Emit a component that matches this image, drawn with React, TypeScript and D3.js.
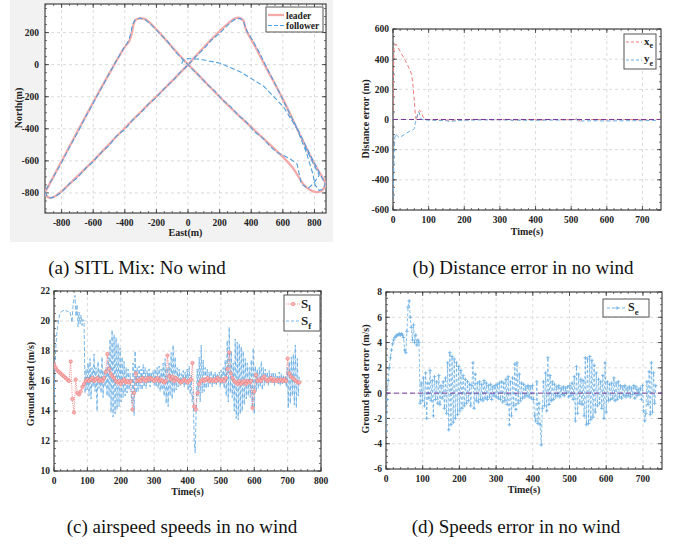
import React from 'react';
import * as d3 from 'd3';

const W = 675;
const H = 545;
const FONT = '"Liberation Serif", "Times New Roman", serif';

// ---- (a) SITL trajectories (East, North in m)
const leaderEast = [-300, -270, -230, -150, -60, 0, 100, 250, 400, 520, 600, 660, 700, 730, 770, 810, 840, 860, 870, 800, 700, 600, 495, 410, 375, 360, 350, 325, 295, 260, 150, 50, 0, -150, -300, -450, -600, -720, -800, -850, -880, -905, -890, -750, -600, -478, -400, -370, -355, -345, -330, -300];
const leaderNorth = [290, 282, 250, 165, 65, 2, -100, -250, -390, -500, -575, -640, -700, -745, -780, -795, -790, -770, -745, -620, -420, -215, -20, 140, 200, 240, 275, 292, 287, 262, 160, 55, 0, -150, -295, -445, -600, -715, -790, -825, -830, -800, -770, -510, -235, -20, 110, 150, 200, 250, 280, 290];

const followerEast = [-40, -30, 0, 76, 203, 329, 477, 603, 688, 747, 789, 804, 830, 855, 868,
  840, 800, 752, 700, 650, 600, 548, 500, 450, 410, 378, 362, 352, 330, 300, 268,
  200, 150, 100, 50, 0, -50, -100, -150, -200, -250, -300, -350, -400, -450, -500, -550, -600, -650, -700, -750, -800, -840, -870, -895, -905,
  -860, -800, -750, -700, -650, -600, -550, -500, -450, -405, -378, -362, -352, -338, -305,
  -270, -230, -180, -130, -80, -30, 20, 70, 120, 170, 220, 270, 320, 370, 420, 470, 520, 560, 600, 650, 690, 705, 718, 760, 795, 830, 790, 740];
const followerNorth = [5, 28, 38, 34, 9, -44, -133, -262, -397, -543, -678, -750, -785, -775, -745,
  -690, -615, -520, -415, -318, -218, -115, -22, 78, 150, 200, 235, 268, 288, 285, 262,
  195, 155, 98, 52, -3, -48, -105, -148, -205, -245, -302, -345, -405, -442, -505, -548, -605, -648, -705, -742, -795, -822, -832, -815, -790,
  -715, -610, -515, -425, -330, -240, -150, -58, 30, 105, 145, 195, 245, 275, 290,
  280, 245, 195, 145, 80, 30, -22, -68, -122, -165, -222, -262, -318, -358, -418, -455, -510, -545, -565, -590, -620, -690, -745, -772, -740, -690, -612, -510];

// ---- (b) distance error
const xeTime = [0, 1, 3, 8, 15, 25, 35, 45, 52, 56, 60, 63, 66, 70, 74, 78, 82, 88, 95, 120, 160, 200, 228, 233, 238, 280, 330, 338, 346, 400, 410, 416, 430, 480, 510, 516, 521, 527, 545, 600, 650, 700, 745];
const xeValue = [60, 300, 480, 500, 475, 430, 390, 340, 300, 230, 120, 20, -5, 45, 60, 55, 30, 5, 0, -3, -5, -3, 0, 8, 0, -2, 0, -12, -2, 0, -10, -4, 0, -2, 0, 6, -8, -3, 0, -2, 0, -3, 0];
const yeTime = [0, 1, 3, 5, 8, 12, 18, 25, 35, 45, 55, 60, 63, 66, 70, 73, 76, 80, 90, 110, 150, 160, 170, 200, 250, 300, 340, 400, 500, 515, 520, 530, 560, 600, 650, 700, 745];
const yeValue = [-520, -450, -250, -120, -95, -110, -120, -110, -95, -80, -70, -60, -20, 10, 40, 50, 20, 0, -3, -5, -8, -15, -10, -5, -3, -2, -5, -5, -3, 0, -15, -10, -8, -10, -8, -8, -5];

// ---- (c) ground speeds, sampled every 3 s (follower) and 5 s (leader)
const sfTime = d3.range(0, 736, 3);
const sfValue = [
  14.2, 17.0, 18.5, 19.3, 19.8, 20.2, 20.5, 20.6, 20.65, 20.7,
  20.7, 20.7, 20.65, 20.7, 20.6, 20.65, 20.6, 20.3, 19.9, 21.0,
  21.5, 21.7, 20.3, 21.1, 19.6, 20.6, 19.8, 20.4, 19.7, 20.1,
  20.0, 15.2, 16.8, 15.4, 17.2, 15.0, 17.5, 14.8, 16.9, 15.6,
  17.8, 15.3, 16.9, 14.0, 17.3, 15.5, 16.8, 15.2, 17.6, 14.9,
  16.7, 15.6, 16.9, 15.0, 17.6, 14.9, 18.8, 13.9, 19.4, 13.6,
  19.1, 13.8, 18.9, 14.1, 18.5, 14.3, 18.2, 14.6, 17.6, 14.9,
  17.3, 15.0, 16.9, 15.2, 16.8, 15.4, 16.5, 15.1, 14.5, 17.2,
  13.7, 18.0, 15.2, 16.9, 15.3, 17.0, 15.5, 16.8, 15.4, 17.1,
  15.6, 16.9, 15.5, 16.7, 15.8, 16.8, 15.6, 16.6, 15.9, 16.7,
  15.7, 16.8, 15.6, 16.9, 15.5, 17.0, 15.3, 16.8, 15.4, 17.2,
  15.0, 17.5, 14.5, 16.9, 14.3, 17.2, 15.0, 17.9, 14.8, 18.4,
  15.2, 17.6, 15.4, 16.9, 15.6, 16.8, 15.7, 16.5, 15.8, 16.7,
  15.6, 16.6, 15.7, 16.8, 15.4, 17.0, 15.1, 16.4, 14.6, 15.3,
  12.0, 11.2, 14.0, 16.8, 15.0, 17.6, 14.6, 18.4, 15.2, 17.4,
  15.3, 16.9, 15.5, 16.8, 15.6, 16.6, 15.8, 16.7, 15.6, 16.5,
  15.8, 16.6, 15.7, 16.5, 15.9, 16.6, 15.6, 16.7, 15.8, 16.9,
  15.5, 17.4, 15.0, 18.7, 14.6, 19.6, 15.2, 18.0, 14.9, 17.2,
  14.0, 18.8, 13.5, 18.6, 13.4, 18.5, 13.8, 18.3, 14.0, 18.0,
  14.4, 17.5, 14.8, 17.2, 15.0, 16.9, 14.9, 17.4, 14.2, 18.2,
  13.8, 17.0, 15.3, 16.8, 15.5, 16.9, 15.6, 17.3, 15.4, 16.9,
  15.7, 16.8, 15.8, 16.6, 15.7, 16.7, 15.9, 16.5, 15.8, 16.6,
  15.7, 16.5, 15.9, 16.4, 15.8, 16.6, 15.7, 16.5, 15.8, 16.4,
  15.9, 16.3, 15.6, 16.9, 14.2, 17.3, 14.5, 17.6, 15.0, 17.8,
  14.4, 18.4, 14.2, 17.5, 15.0, 16.4,
];
const slTime = d3.range(0, 736, 5);
const slValue = [
  17.1, 16.9, 16.7, 16.6, 16.5, 16.4, 16.3, 16.2, 16.1, 16.0,
  17.3, 14.8, 13.9, 16.1, 15.2, 15.1, 15.3, 15.6, 15.8, 16.0,
  16.1, 16.0, 16.1, 16.2, 16.0, 16.1, 16.2, 16.0, 16.1, 16.0,
  16.2, 16.6, 17.8, 16.8, 16.5, 16.3, 16.2, 16.0, 15.9, 16.0,
  15.8, 16.0, 16.1, 15.9, 16.0, 15.9, 16.0, 14.1, 15.2, 16.5,
  16.0, 16.1, 16.0, 16.2, 16.1, 16.0, 16.2, 16.1, 16.2, 16.1,
  16.0, 16.1, 16.2, 16.0, 16.1, 16.0, 15.9, 16.0, 17.7, 16.3,
  16.1, 16.3, 16.0, 16.2, 16.1, 16.0, 15.9, 16.0, 16.1, 16.0,
  15.9, 16.0, 16.1, 17.2, 14.3, 14.1, 15.2, 15.8, 16.0, 16.1,
  16.0, 16.1, 16.2, 16.0, 16.1, 16.0, 16.1, 16.0, 16.2, 16.1,
  16.0, 16.1, 16.0, 16.2, 16.8, 17.9, 16.5, 16.2, 16.0, 15.9,
  15.8, 16.0, 15.8, 15.9, 16.0, 15.8, 16.0, 15.9, 16.0, 14.2,
  15.3, 16.4, 16.0, 16.1, 16.0, 16.2, 16.3, 16.1, 16.0, 16.1,
  16.2, 16.0, 16.1, 16.0, 16.1, 16.0, 16.1, 16.0, 16.1, 16.0,
  17.5, 16.5, 16.3, 16.2, 16.1, 16.0, 15.9, 15.9,
];

// ---- (d) ground speed error, every 3 s
const seTime = d3.range(0, 736, 3);
const seValue = [
  -3.0, -0.5, 1.0, 2.0, 2.8, 3.4, 3.9, 4.2, 4.4, 4.5,
  4.6, 4.6, 4.7, 4.6, 4.7, 4.6, 4.4, 3.4, 3.2, 4.9,
  6.8, 7.3, 6.0, 5.2, 4.2, 5.4, 4.0, 4.6, 3.8, 4.2,
  4.0, -0.8, 0.8, -0.6, 1.2, -1.0, 1.6, -2.0, 0.8, -0.4,
  1.8, -0.6, 1.0, -1.8, 1.3, -0.5, 0.9, -0.8, 1.4, -0.9,
  0.6, -0.4, 0.9, -1.2, 1.2, -1.6, 2.4, -2.9, 3.2, -2.5,
  2.9, -2.3, 2.7, -2.0, 2.4, -1.7, 2.1, -1.4, 1.8, -1.2,
  1.4, -1.0, 1.1, -0.8, 0.9, -0.6, 0.7, -1.0, 0.6, 2.4,
  -1.2, 1.5, -0.6, 0.8, -0.7, 0.9, -0.5, 0.7, -0.6, 1.0,
  -0.4, 0.8, -0.5, 0.6, -0.3, 0.7, -0.5, 0.5, -0.2, 0.6,
  -0.3, 0.7, -0.4, 0.8, -0.5, 0.9, -0.7, 0.8, -0.6, 1.1,
  -0.9, 1.3, -2.5, 0.9, -1.8, 1.2, -1.0, 2.3, -1.3, 2.4,
  -0.8, 1.5, -0.6, 0.8, -0.4, 0.7, -0.3, 0.5, -0.2, 0.6,
  -0.3, 0.5, -0.4, 0.6, -0.5, -1.8, -2.2, 0.9, -2.4, -0.8,
  -2.5, -4.1, -1.2, 0.9, -1.0, 1.6, -1.4, 2.8, -0.9, 1.4,
  -0.6, 0.9, -0.5, 0.7, -0.3, 0.5, -0.2, 0.6, -0.3, 0.4,
  -0.1, 0.5, -0.2, 0.4, 0.0, 0.5, -0.3, 0.6, -0.2, 0.8,
  -0.5, 1.3, -2.2, 2.1, -1.6, 1.5, -0.8, 1.1, -0.9, 1.0,
  -1.8, 2.8, -2.5, 2.7, -2.4, 2.9, -2.1, 2.6, -1.9, 2.2,
  -1.5, 1.6, -1.0, 1.1, -0.8, 0.9, -1.2, 1.4, -2.0, 2.4,
  -1.5, 0.9, -0.6, 0.7, -0.5, 0.8, -0.4, 1.2, -0.6, 0.8,
  -0.5, 0.9, -0.3, 0.6, -0.4, 0.5, -0.2, 0.6, -0.3, 0.4,
  -0.2, 0.5, -0.3, 0.4, -0.1, 0.6, -0.4, 0.5, -0.2, 0.3,
  -0.1, 0.4, -0.5, 0.6, -1.4, -2.2, -1.6, 0.9, -0.9, 1.7,
  -1.7, 2.4, -1.5, 1.6, -0.8, 0.6,
];

// tick labels
const aEastTicks = [-800, -600, -400, -200, 0, 200, 400, 600, 800];
const aNorthTicks = [-800, -600, -400, -200, 0, 200];
const timeTicks700 = [0, 100, 200, 300, 400, 500, 600, 700];
const timeTicks800 = [0, 100, 200, 300, 400, 500, 600, 700, 800];
const distTicks = [-600, -400, -200, 0, 200, 400, 600];
const speedTicks = [10, 12, 14, 16, 18, 20, 22];
const errTicks = [-6, -4, -2, 0, 2, 4, 6, 8];

const RED = '#f07a7a';
const BLUE = '#6aaee3';
const PURPLE = '#7a3a9a';

type Lin = d3.ScaleLinear<number, number>;

function Axes(props: {
  x: Lin; y: Lin; xTicks: number[]; yTicks: number[]; xMinor: number[]; yMinor: number[];
  gap: number; xTitle: string; yTitle: string; xTitleY: number; yTitleX: number; yTitleY: number;
}) {
  const { x, y, xTicks, yTicks, xMinor, yMinor, gap } = props;
  const [x0, x1] = x.range();
  const [y1, y0] = y.range();
  const tf = { fontFamily: FONT, fontWeight: 700, fontSize: 9.5, fill: '#222' } as const;
  return (
    <g>
      {xTicks.map((t) => (
        <line key={'gx' + t} x1={x(t)} x2={x(t)} y1={y0} y2={y1} stroke="#d2d2d2" strokeDasharray="3,3" strokeWidth={0.8} />
      ))}
      {yTicks.map((t) => (
        <line key={'gy' + t} x1={x0} x2={x1} y1={y(t)} y2={y(t)} stroke="#d2d2d2" strokeDasharray="3,3" strokeWidth={0.8} />
      ))}
      {xMinor.map((t) => (
        <g key={'mx' + t}>
          <line x1={x(t)} x2={x(t)} y1={y1} y2={y1 - 2} stroke="#333" strokeWidth={0.7} />
          <line x1={x(t)} x2={x(t)} y1={y0} y2={y0 + 2} stroke="#333" strokeWidth={0.7} />
        </g>
      ))}
      {yMinor.map((t) => (
        <g key={'my' + t}>
          <line x1={x0} x2={x0 + 2} y1={y(t)} y2={y(t)} stroke="#333" strokeWidth={0.7} />
          <line x1={x1} x2={x1 - 2} y1={y(t)} y2={y(t)} stroke="#333" strokeWidth={0.7} />
        </g>
      ))}
      {xTicks.map((t) => (
        <g key={'tx' + t}>
          <line x1={x(t)} x2={x(t)} y1={y1} y2={y1 - 4} stroke="#333" strokeWidth={0.8} />
          <line x1={x(t)} x2={x(t)} y1={y0} y2={y0 + 4} stroke="#333" strokeWidth={0.8} />
          <text x={x(t)} y={y1 + 13} textAnchor="middle" {...tf}>{t}</text>
        </g>
      ))}
      {yTicks.map((t) => (
        <g key={'ty' + t}>
          <line x1={x0} x2={x0 + 4} y1={y(t)} y2={y(t)} stroke="#333" strokeWidth={0.8} />
          <line x1={x1} x2={x1 - 4} y1={y(t)} y2={y(t)} stroke="#333" strokeWidth={0.8} />
          <text x={x0 - gap} y={y(t) + 3.4} textAnchor="end" {...tf}>{t}</text>
        </g>
      ))}
      <rect x={x0} y={y0} width={x1 - x0} height={y1 - y0} fill="none" stroke="#444" strokeWidth={1.2} />
      <text x={(x0 + x1) / 2} y={props.xTitleY} textAnchor="middle" {...tf} fontSize={10}>{props.xTitle}</text>
      <text transform={`translate(${props.yTitleX},${props.yTitleY}) rotate(-90)`} textAnchor="middle" {...tf} fontSize={10}>{props.yTitle}</text>
    </g>
  );
}

const App = () => {
  // (a)
  const xA = d3.scaleLinear().domain([-905, 873]).range([45, 326]);
  const yA = d3.scaleLinear().domain([-925, 378]).range([213, 4]);
  const lineA = d3.line<number>().x((d) => xA(leaderEast[d])).y((d) => yA(leaderNorth[d])).curve(d3.curveCatmullRom.alpha(0.5));
  const lineF = d3.line<number>().x((d) => xA(followerEast[d])).y((d) => yA(followerNorth[d]));

  // (b)
  const xB = d3.scaleLinear().domain([0, 752]).range([393, 661]);
  const yB = d3.scaleLinear().domain([-600, 600]).range([210, 29]);
  const lineXe = d3.line<number>().x((d) => xB(xeTime[d])).y((d) => yB(xeValue[d]));
  const lineYe = d3.line<number>().x((d) => xB(yeTime[d])).y((d) => yB(yeValue[d]));

  // (c)
  const xC = d3.scaleLinear().domain([0, 800]).range([54, 321]);
  const yC = d3.scaleLinear().domain([10, 22]).range([471, 291]);
  const lineSf = d3.line<number>().x((d) => xC(sfTime[d])).y((d) => yC(sfValue[d]));
  const lineSl = d3.line<number>().x((d) => xC(slTime[d])).y((d) => yC(slValue[d]));

  // (d)
  const xD = d3.scaleLinear().domain([0, 752]).range([386, 662]);
  const yD = d3.scaleLinear().domain([-6, 8]).range([469, 292]);
  const lineSe = d3.line<number>().x((d) => xD(seTime[d])).y((d) => yD(seValue[d]));
  const plus = seValue.map((v, i) => {
    const px = xD(seTime[i]);
    const py = yD(v);
    return `M${px - 1.8},${py}h3.6M${px},${py - 1.8}v3.6`;
  }).join('');

  const idx = (arr: number[]) => arr.map((_, i) => i);
  const cap = { fontFamily: FONT, fontSize: 19, fill: '#111' } as const;
  const lf = { fontFamily: FONT, fontWeight: 700, fill: '#222' } as const;

  return (
    <div style={{ position: 'absolute', left: 0, top: 0 }}>
      <svg width={W} height={H} style={{ display: 'block', background: '#fff' }}>
        <defs>
          <clipPath id="cA"><rect x={45} y={4} width={281} height={209} /></clipPath>
          <clipPath id="cB"><rect x={393} y={29} width={268} height={181} /></clipPath>
          <clipPath id="cC"><rect x={54} y={291} width={267} height={180} /></clipPath>
          <clipPath id="cD"><rect x={386} y={292} width={276} height={177} /></clipPath>
        </defs>

        {/* (a) */}
        <rect x={10} y={0} width={323} height={242} fill="#f2f2f2" />
        <rect x={45} y={4} width={281} height={209} fill="#fff" />
        <Axes x={xA} y={yA} xTicks={aEastTicks} yTicks={aNorthTicks}
          xMinor={d3.range(-900, 871, 50)} yMinor={d3.range(-900, 351, 50)} gap={6}
          xTitle="East(m)" yTitle="North(m)" xTitleY={236} yTitleX={22} yTitleY={108} />
        <g clipPath="url(#cA)">
          <path d={lineA(idx(leaderEast)) || ''} fill="none" stroke="#f5aaaa" strokeWidth={2.3} strokeLinejoin="round" />
          <path d={lineF(idx(followerEast)) || ''} fill="none" stroke="#4f9fdf" strokeWidth={1.1} strokeDasharray="5,2.5" />
        </g>
        <rect x={266} y={7} width={57} height={25} fill="#fff" stroke="#555" strokeWidth={1} />
        <line x1={268} x2={284} y1={15} y2={15} stroke="#f5aaaa" strokeWidth={2.3} />
        <text x={286} y={18.5} fontSize={9.5} {...lf}>leader</text>
        <line x1={268} x2={284} y1={25.5} y2={25.5} stroke="#4f9fdf" strokeWidth={1.1} strokeDasharray="4,2" />
        <text x={286} y={29} fontSize={9.5} {...lf}>follower</text>

        {/* (b) */}
        <Axes x={xB} y={yB} xTicks={timeTicks700} yTicks={distTicks}
          xMinor={d3.range(0, 751, 20)} yMinor={d3.range(-600, 601, 50)} gap={4}
          xTitle="Time(s)" yTitle="Distance error (m)" xTitleY={235} yTitleX={369} yTitleY={119} />
        <g clipPath="url(#cB)">
          <path d={lineXe(idx(xeTime)) || ''} fill="none" stroke={RED} strokeWidth={1} strokeDasharray="4,2.5" />
          <path d={lineYe(idx(yeTime)) || ''} fill="none" stroke={BLUE} strokeWidth={1} strokeDasharray="4,2.5" />
          <line x1={393} x2={661} y1={yB(0)} y2={yB(0)} stroke={PURPLE} strokeWidth={1} strokeDasharray="5,3" />
        </g>
        <rect x={624} y={34} width={32} height={35} fill="#fff" stroke="#555" strokeWidth={1} />
        <line x1={626} x2={642} y1={42} y2={42} stroke={RED} strokeWidth={1} strokeDasharray="3,2" />
        <text x={644} y={44.5} fontSize={11} {...lf}>x<tspan dy={3.5} fontSize={8}>e</tspan></text>
        <line x1={626} x2={642} y1={60} y2={60} stroke={BLUE} strokeWidth={1} strokeDasharray="3,2" />
        <text x={644} y={62} fontSize={11} {...lf}>y<tspan dy={3.5} fontSize={8}>e</tspan></text>

        {/* (c) */}
        <Axes x={xC} y={yC} xTicks={timeTicks800} yTicks={speedTicks}
          xMinor={d3.range(0, 801, 20)} yMinor={d3.range(10, 22.01, 0.5)} gap={4}
          xTitle="Time(s)" yTitle="Ground speed (m/s)" xTitleY={495} yTitleX={34} yTitleY={384} />
        <g clipPath="url(#cC)">
          <path d={lineSf(idx(sfTime)) || ''} fill="none" stroke={BLUE} strokeWidth={0.9} strokeDasharray="4,2" />
          <path d={lineSl(idx(slTime)) || ''} fill="none" stroke={RED} strokeWidth={0.9} strokeDasharray="1,1.2" />
          {slValue.map((v, i) => (
            <circle key={i} cx={xC(slTime[i])} cy={yC(v)} r={1.7} fill="#f8b4b4" stroke={RED} strokeWidth={0.6} />
          ))}
        </g>
        <rect x={284} y={295} width={36} height={36} fill="#fff" stroke="#555" strokeWidth={1} />
        <line x1={286} x2={300} y1={304} y2={304} stroke={RED} strokeWidth={0.9} strokeDasharray="1,1.2" />
        <circle cx={293} cy={304} r={1.7} fill="#f8b4b4" stroke={RED} strokeWidth={0.6} />
        <text x={301} y={307.5} fontSize={13} {...lf}>S<tspan dy={3.5} fontSize={9}>l</tspan></text>
        <line x1={286} x2={300} y1={321} y2={321} stroke={BLUE} strokeWidth={0.9} strokeDasharray="3,2" />
        <text x={301} y={325} fontSize={13} {...lf}>S<tspan dy={3.5} fontSize={9}>f</tspan></text>

        {/* (d) */}
        <Axes x={xD} y={yD} xTicks={timeTicks700} yTicks={errTicks}
          xMinor={d3.range(0, 751, 20)} yMinor={d3.range(-6, 8.01, 0.5)} gap={4}
          xTitle="Time(s)" yTitle="Ground speed error (m/s)" xTitleY={493} yTitleX={369} yTitleY={379} />
        <g clipPath="url(#cD)">
          <path d={lineSe(idx(seTime)) || ''} fill="none" stroke={BLUE} strokeWidth={0.8} strokeDasharray="3,2" />
          <path d={plus} fill="none" stroke={BLUE} strokeWidth={0.8} />
          <line x1={386} x2={662} y1={yD(0)} y2={yD(0)} stroke={PURPLE} strokeWidth={1} strokeDasharray="5,3" />
        </g>
        <rect x={603} y={299} width={46} height={18} fill="#fff" stroke="#555" strokeWidth={1} />
        <line x1={607} x2={627} y1={308} y2={308} stroke={BLUE} strokeWidth={0.9} strokeDasharray="3,2" />
        <path d={`M615.2,308h3.6M617,306.2v3.6`} stroke={BLUE} strokeWidth={0.8} />
        <text x={628} y={311} fontSize={12} {...lf}>S<tspan dy={3.5} fontSize={8.5}>e</tspan></text>

        {/* captions */}
        <text x={137} y={274} textAnchor="middle" {...cap}>(a) SITL Mix: No wind</text>
        <text x={523} y={274} textAnchor="middle" {...cap}>(b) Distance error in no wind</text>
        <text x={182} y={533} textAnchor="middle" {...cap}>(c) airspeed speeds in no wind</text>
        <text x={516} y={533} textAnchor="middle" {...cap}>(d) Speeds error in no wind</text>
      </svg>
    </div>
  );
};

export default App;
